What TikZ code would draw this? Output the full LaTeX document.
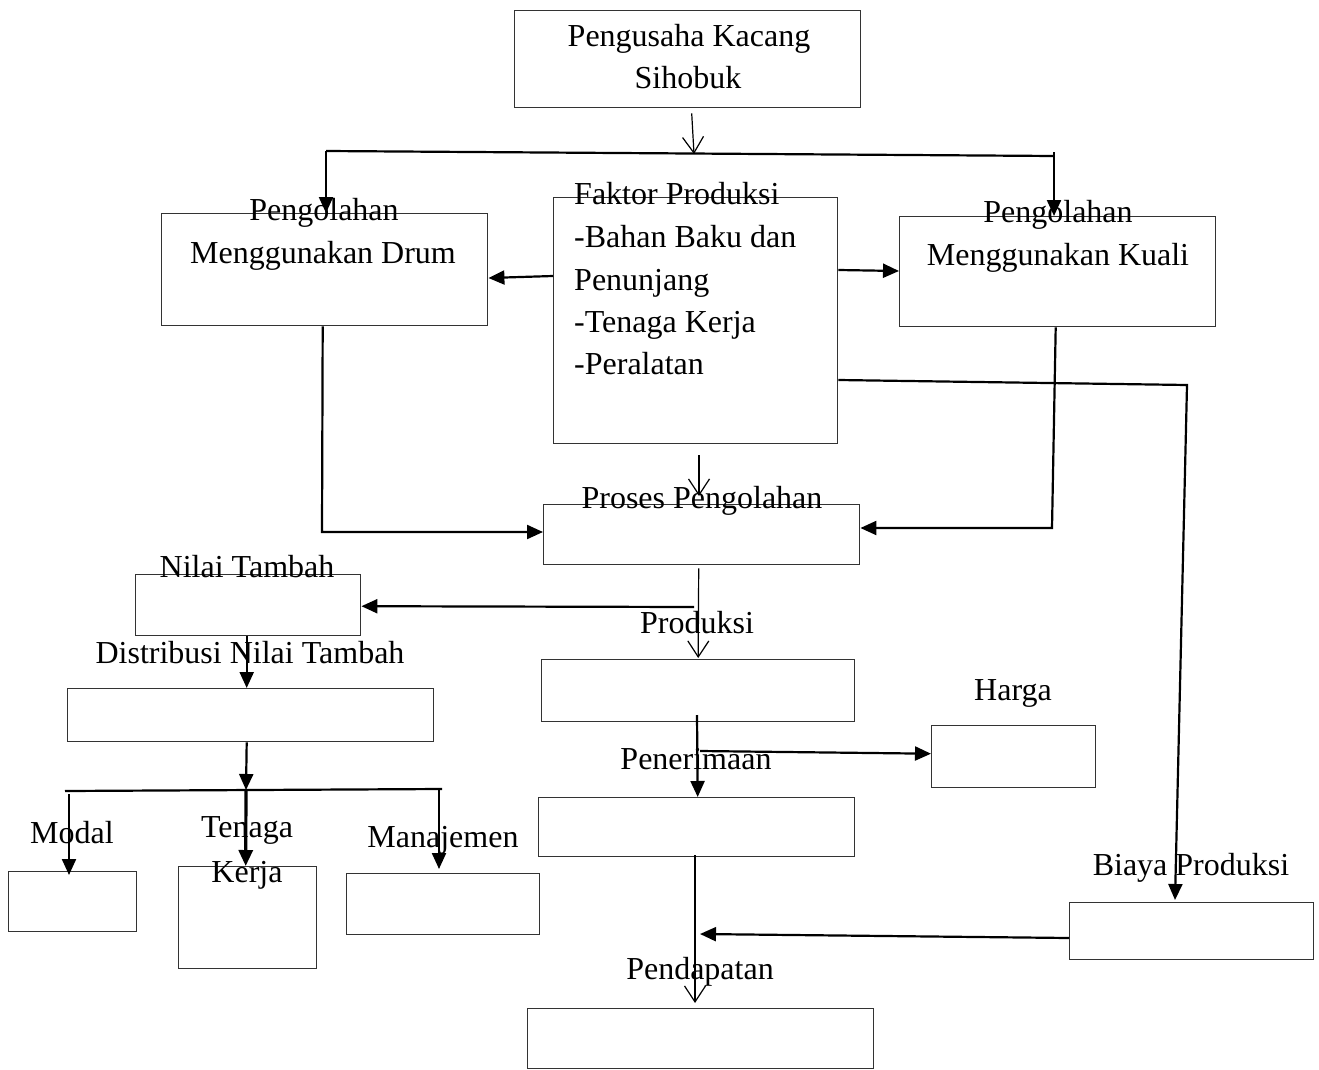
\documentclass[tikz,border=0pt]{standalone}
\usepackage{fontspec}
\setmainfont{Liberation Serif}
\usetikzlibrary{arrows.meta,calc}
\begin{document}
\begin{tikzpicture}[x=1pt,y=-1pt,
  box/.style={draw=black!80, line width=1.4pt, inner sep=0pt, anchor=north west},
  lbl/.style={font=\fontsize{32}{43}\selectfont, inner sep=0pt, anchor=base, text=black},
  lbll/.style={font=\fontsize{32}{43}\selectfont, inner sep=0pt, anchor=base west, text=black},
  conn/.style={draw, line width=2.2pt, -{Triangle[length=16pt,width=14pt]}},
  thinarr/.style={draw, line width=1.2pt, -{Straight Barb[length=16pt,width=21pt,line width=1.2pt]}},
  plain/.style={draw, line width=2.2pt}
]
\useasboundingbox[fill=white] (0,0) rectangle (1319,1070);

% boxes
\node[box, minimum width=346, minimum height=97] (top) at (514,10) {};
\node[box, minimum width=326, minimum height=112] (drum) at (161,213) {};
\node[box, minimum width=284, minimum height=246] (faktor) at (553,197) {};
\node[box, minimum width=316, minimum height=110] (kuali) at (899,216) {};
\node[box, minimum width=316, minimum height=60] (proses) at (543,504) {};
\node[box, minimum width=225, minimum height=61] (nilai) at (135,574) {};
\node[box, minimum width=366, minimum height=53] (distri) at (67,688) {};
\node[box, minimum width=313, minimum height=62] (produksi) at (541,659) {};
\node[box, minimum width=164, minimum height=62] (harga) at (931,725) {};
\node[box, minimum width=316, minimum height=59] (penerimaan) at (538,797) {};
\node[box, minimum width=346, minimum height=60] (pendapatan) at (527,1008) {};
\node[box, minimum width=244, minimum height=57] (biaya) at (1069,902) {};
\node[box, minimum width=128, minimum height=60] (modal) at (8,871) {};
\node[box, minimum width=138, minimum height=102] (tenaga) at (178,866) {};
\node[box, minimum width=193, minimum height=61] (manaj) at (346,873) {};

% labels
\node[lbl] (lTop1) at (689,47) {Pengusaha Kacang};
\node[lbl] (lTop2) at (688,89) {Sihobuk};
\node[lbl] (lDrum1) at (324,220) {Pengolahan};
\node[lbl] (lDrum2) at (323,263) {Menggunakan Drum};
\node[lbl] (lKuali1) at (1058,222) {Pengolahan};
\node[lbl] (lKuali2) at (1058,265) {Menggunakan Kuali};
\node[lbll] (lF1) at (574,204) {Faktor Produksi};
\node[lbll] (lF2) at (574,247) {-Bahan Baku dan};
\node[lbll] (lF3) at (574,290) {Penunjang};
\node[lbll] (lF4) at (574,332) {-Tenaga Kerja};
\node[lbll] (lF5) at (574,374) {-Peralatan};
\node[lbl] (lProses) at (702,508) {Proses Pengolahan};
\node[lbl] (lNilai) at (247,577) {Nilai Tambah};
\node[lbl] (lDistri) at (250,663) {Distribusi Nilai Tambah};
\node[lbl] (lProduksi) at (697,633) {Produksi};
\node[lbl] (lHarga) at (1013,700) {Harga};
\node[lbl] (lPenerimaan) at (696,769) {Penerimaan};
\node[lbl] (lPendapatan) at (700,979) {Pendapatan};
\node[lbl] (lBiaya) at (1191,875) {Biaya Produksi};
\node[lbl] (lModal) at (72,843) {Modal};
\node[lbl] (lTenaga1) at (247,837) {Tenaga};
\node[lbl] (lTenaga2) at (247,882) {Kerja};
\node[lbl] (lManaj) at (443,847) {Manajemen};

% junction coordinates
\coordinate (bL) at (326,151);
\coordinate (bR) at (1054,156);
\coordinate (bRt) at (1054,152);
\coordinate (tA) at (694,154);
\coordinate (cB) at (1187,385);
\coordinate (f1) at (699,455);
\coordinate (p1) at (699,496);
\coordinate (dC) at (322,532);
\coordinate (kC) at (1052,528);
\coordinate (nJ) at (694,607);
\coordinate (sJ) at (246,790);
\coordinate (hL) at (65,791);
\coordinate (hR) at (442,789);
\coordinate (mT) at (69,794);
\coordinate (mE) at (69,875);
\coordinate (jT) at (439,789);
\coordinate (jE) at (439,869);
\coordinate (pJ) at (697,715);
\coordinate (hJ) at (700,751);
\coordinate (eJ) at (695,855);
\coordinate (eE) at (695,1003);
\coordinate (bE) at (700,934);

% connectors
\draw[thinarr] ([xshift=4,yshift=-5]top.south) -- (tA);
\draw[plain] (bL) -- (bR);
\draw[line width=2.2pt] (bRt) -- (bR);
\draw[conn] (bL) -- (bL |- drum.north);
\draw[conn] (bR) -- (bR |- kuali.north);
\draw[conn] ([yshift=-79]faktor.north west) -- ([yshift=-65]drum.north east);
\draw[conn] ([yshift=-73]faktor.north east) -- ([yshift=-55]kuali.north west);
\draw[conn] ([yshift=-183]faktor.north east) -- (cB) -- ([xshift=106,yshift=2]biaya.north west);
\draw[thinarr] (f1) -- (p1);
\draw[conn] ([xshift=-2]drum.south) -- (dC) -- ([yshift=-28]proses.north west);
\draw[conn] ([xshift=-2]kuali.south) -- (kC) -- ([yshift=-24]proses.north east);
\draw[thinarr] ([xshift=-3,yshift=-3]proses.south) -- ([yshift=1]produksi.north);
\draw[conn] (nJ) -- ([yshift=-1]nilai.east);
\draw[conn] ([xshift=-1.5]nilai.south) -- ([xshift=-1.5]nilai.south |- distri.north);
\draw[conn] ([xshift=-1.5]nilai.south |- distri.south) -- (sJ);
\draw[plain] (hL) -- (hR);
\draw[conn] (mT) -- (mE);
\draw[conn, line width=3.2pt] (sJ) -- ([xshift=-2]tenaga.north);
\draw[conn] (jT) -- (jE);
\draw[conn] (pJ) -- ([xshift=1]penerimaan.north);
\draw[conn] (hJ) -- ([yshift=3]harga.west);
\draw[thinarr] (eJ) -- (eE);
\draw[conn] ([yshift=-36]biaya.north west) -- (bE);
\end{tikzpicture}
\end{document}
